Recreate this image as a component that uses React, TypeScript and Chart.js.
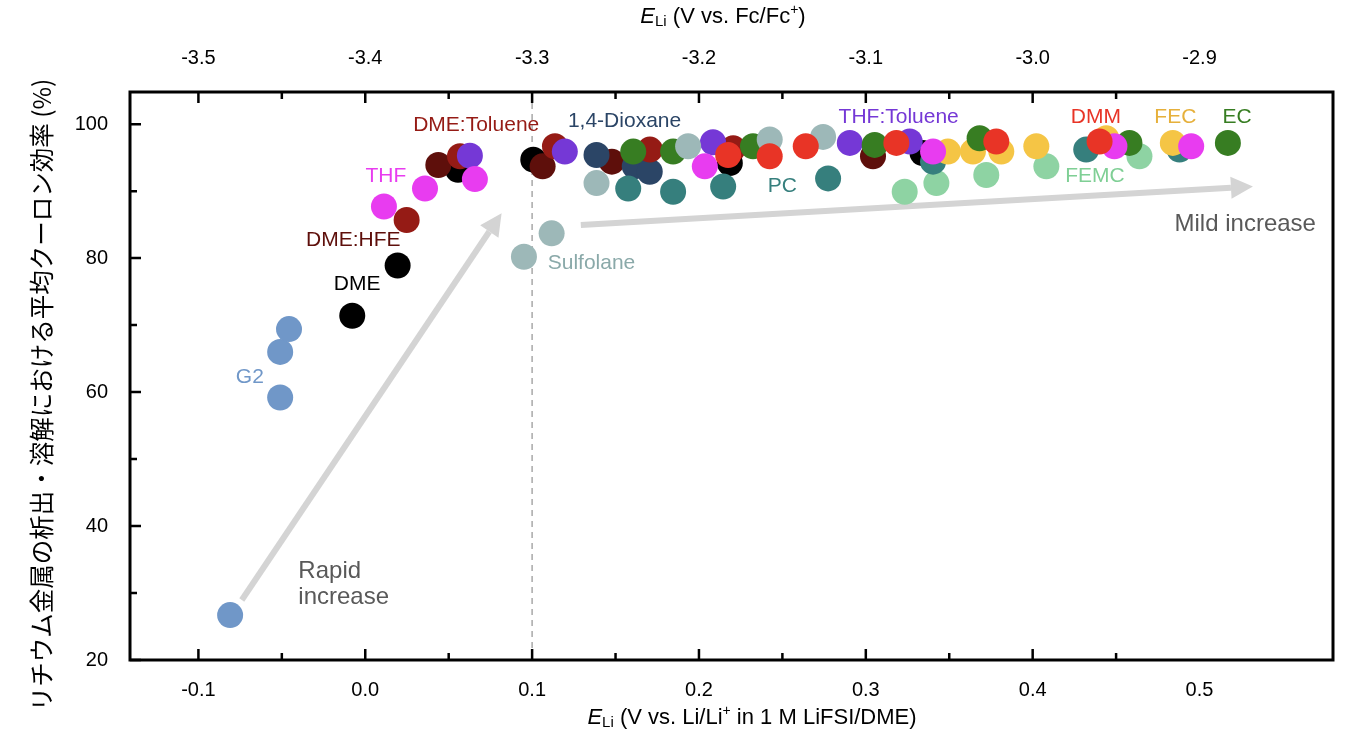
import React, { useEffect, useRef } from "react";
import { Chart, registerables } from "chart.js";
Chart.register(...registerables);

// ---- data (E_Li vs Li/Li+ in 1 M LiFSI/DME, average Coulombic efficiency %) ----
const G2_X = [-0.081, -0.051, -0.051, -0.0457];
const G2_Y = [26.7, 59.2, 66.0, 69.4];
const DME_X = [-0.0078, 0.0194, 0.0556, 0.1007, 0.2185, 0.334];
const DME_Y = [71.4, 78.9, 93.2, 94.7, 94.2, 95.7];
const DMEHFE_X = [0.0438, 0.1063, 0.1478, 0.3043];
const DMEHFE_Y = [93.9, 93.7, 94.4, 95.2];
const DMETOL_X = [0.0248, 0.0568, 0.1137, 0.1706, 0.2205];
const DMETOL_Y = [85.7, 95.2, 96.7, 96.2, 96.4];
const THF_X = [0.0112, 0.0358, 0.0657, 0.2035, 0.3403, 0.449, 0.495];
const THF_Y = [87.7, 90.4, 91.8, 93.7, 95.9, 96.7, 96.7];
const THFTOL_X = [0.0627, 0.1196, 0.2084, 0.2904, 0.3263];
const THFTOL_Y = [95.3, 95.9, 97.3, 97.2, 97.4];
const DIOX_X = [0.1386, 0.1615, 0.1705];
const DIOX_Y = [95.4, 93.7, 92.9];
const PC_X = [0.1576, 0.1845, 0.2145, 0.2774, 0.3403, 0.4321, 0.488];
const PC_Y = [90.4, 89.9, 90.7, 91.9, 94.4, 96.2, 96.2];
const SULF_X = [0.0951, 0.1117, 0.1386, 0.1935, 0.2424, 0.2744];
const SULF_Y = [80.2, 83.7, 91.2, 96.7, 97.7, 98.1];
const EC_X = [0.1606, 0.1845, 0.2324, 0.3053, 0.3682, 0.458, 0.517];
const EC_Y = [95.9, 95.9, 96.7, 96.9, 97.9, 97.2, 97.2];
const DMM_X = [0.2175, 0.2424, 0.264, 0.3183, 0.3782, 0.4401];
const DMM_Y = [95.4, 95.2, 96.7, 97.2, 97.4, 97.4];
const FEC_X = [0.3492, 0.3642, 0.3812, 0.4022, 0.4441, 0.484];
const FEC_Y = [95.9, 95.9, 95.9, 96.7, 97.9, 97.2];
const FEMC_X = [0.3233, 0.3423, 0.3722, 0.4082, 0.464];
const FEMC_Y = [89.9, 91.2, 92.4, 93.7, 95.2];

const X_TICK_LABELS = ["-0.1", "0.0", "0.1", "0.2", "0.3", "0.4", "0.5"];
const TOP_TICK_LABELS = ["-3.5", "-3.4", "-3.3", "-3.2", "-3.1", "-3.0", "-2.9"];
const Y_TICK_LABELS = ["20", "40", "60", "80", "100"];

// series labels drawn in the plot
const LABEL_TEXT = ["DME:Toluene", "1,4-Dioxane", "THF:Toluene", "DMM", "FEC", "EC", "THF", "DME:HFE", "DME", "G2", "PC", "Sulfolane", "FEMC"];
const LABEL_X = [0.0665, 0.1554, 0.3197, 0.4379, 0.4855, 0.5225, 0.0124, -0.0072, -0.0049, -0.0692, 0.2499, 0.1356, 0.4373];
const LABEL_Y = [99.9, 100.4, 101.0, 101.0, 101.0, 101.0, 92.2, 82.7, 76.05, 62.2, 90.7, 79.24, 92.2];

const FONT = "'Liberation Sans', Arial, Helvetica, sans-serif";

const COLORS: Record<string, string> = {
  G2: "#7097c8",
  DME: "#000000",
  "DME:HFE": "#5e0f0b",
  "DME:Toluene": "#951b15",
  THF: "#e83cf0",
  "THF:Toluene": "#7538d6",
  "1,4-Dioxane": "#2b4566",
  PC: "#367f7d",
  Sulfolane: "#9db8b8",
  EC: "#377d22",
  DMM: "#e83426",
  FEC: "#f5c545",
  FEMC: "#8ed3a3",
};
const LABEL_COLORS: Record<string, string> = {
  ...COLORS,
  FEC: "#e6b03b",
  FEMC: "#7fcf95",
  Sulfolane: "#8aa9a9",
};

const ARROWS = [
  { x0: -0.074, y0: 28.96, x1: 0.0817, y1: 86.7 },
  { x0: 0.1292, y0: 84.96, x1: 0.532, y1: 90.7 },
];

function pts(xs: number[], ys: number[]) {
  return xs.map((x, i) => ({ x, y: ys[i] }));
}

const fmtTick = (labels: string[], start: number) => (v: number) => {
  const idx = Math.round((v - start) / 0.1);
  return labels[idx] ?? "";
};

function drawRich(ctx: CanvasRenderingContext2D, parts: { t: string; f: string; dy?: number }[], cx: number, cy: number) {
  let total = 0;
  for (const p of parts) {
    ctx.font = p.f;
    total += ctx.measureText(p.t).width;
  }
  let x = cx - total / 2;
  ctx.textAlign = "left";
  ctx.textBaseline = "middle";
  for (const p of parts) {
    ctx.font = p.f;
    ctx.fillText(p.t, x, cy + (p.dy || 0));
    x += ctx.measureText(p.t).width;
  }
}

const decorPlugin = {
  id: "decor",
  beforeDatasetsDraw(chart: any) {
    const { ctx, chartArea: a } = chart;
    const xs = chart.scales.x;
    const ys = chart.scales.y;
    ctx.save();
    // dashed vertical line at 0.1
    const xd = xs.getPixelForValue(0.1);
    ctx.strokeStyle = "#a8a8a8";
    ctx.lineWidth = 1.5;
    ctx.setLineDash([6, 5]);
    ctx.beginPath();
    ctx.moveTo(xd, a.top);
    ctx.lineTo(xd, a.bottom);
    ctx.stroke();
    ctx.setLineDash([]);
    // arrows
    for (const ar of ARROWS) {
      const px0 = xs.getPixelForValue(ar.x0);
      const py0 = ys.getPixelForValue(ar.y0);
      const px1 = xs.getPixelForValue(ar.x1);
      const py1 = ys.getPixelForValue(ar.y1);
      const ang = Math.atan2(py1 - py0, px1 - px0);
      const hl = 22;
      const hw = 11;
      const bx = px1 - hl * Math.cos(ang);
      const by = py1 - hl * Math.sin(ang);
      ctx.strokeStyle = "#d4d4d4";
      ctx.fillStyle = "#d4d4d4";
      ctx.lineWidth = 6;
      ctx.beginPath();
      ctx.moveTo(px0, py0);
      ctx.lineTo(bx, by);
      ctx.stroke();
      ctx.beginPath();
      ctx.moveTo(px1, py1);
      ctx.lineTo(bx + hw * Math.sin(ang), by - hw * Math.cos(ang));
      ctx.lineTo(bx - hw * Math.sin(ang), by + hw * Math.cos(ang));
      ctx.closePath();
      ctx.fill();
    }
    ctx.restore();
  },
  afterDraw(chart: any) {
    const { ctx, chartArea: a } = chart;
    const xs = chart.scales.x;
    const ys = chart.scales.y;
    ctx.save();
    // labels
    ctx.font = `21px ${FONT}`;
    ctx.textAlign = "center";
    ctx.textBaseline = "middle";
    LABEL_TEXT.forEach((t, i) => {
      ctx.fillStyle = LABEL_COLORS[t];
      ctx.fillText(t, xs.getPixelForValue(LABEL_X[i]), ys.getPixelForValue(LABEL_Y[i]));
    });
    ctx.font = `24px ${FONT}`;
    ctx.fillStyle = "#595959";
    ctx.fillText("Mild increase", xs.getPixelForValue(0.5274), ys.getPixelForValue(85.1));
    ctx.textAlign = "left";
    ctx.fillText("Rapid", xs.getPixelForValue(-0.0401), ys.getPixelForValue(33.3));
    ctx.fillText("increase", xs.getPixelForValue(-0.0401), ys.getPixelForValue(29.4));

    // frame
    ctx.strokeStyle = "#000";
    ctx.lineWidth = 3;
    ctx.strokeRect(a.left, a.top, a.right - a.left, a.bottom - a.top);
    // ticks
    ctx.lineWidth = 2.5;
    ctx.beginPath();
    for (let k = -2; k <= 11; k++) {
      const v = k * 0.05 - 0.1;
      if (v < -0.141 || v > 0.58) continue;
      const px = xs.getPixelForValue(v);
      const len = k % 2 === 0 ? 11 : 7;
      ctx.moveTo(px, a.bottom);
      ctx.lineTo(px, a.bottom - len);
      ctx.moveTo(px, a.top);
      ctx.lineTo(px, a.top + len);
    }
    for (let v = 20; v <= 100; v += 10) {
      const py = ys.getPixelForValue(v);
      const len = v % 20 === 0 ? 11 : 7;
      ctx.moveTo(a.left, py);
      ctx.lineTo(a.left + len, py);
    }
    ctx.stroke();

    // axis titles
    ctx.fillStyle = "#000";
    drawRich(
      ctx,
      [
        { t: "E", f: `italic 22px ${FONT}` },
        { t: "Li", f: `15px ${FONT}`, dy: 5 },
        { t: " (V vs. Fc/Fc", f: `22px ${FONT}` },
        { t: "+", f: `14px ${FONT}`, dy: -7 },
        { t: ")", f: `22px ${FONT}` },
      ],
      723,
      17
    );
    drawRich(
      ctx,
      [
        { t: "E", f: `italic 22px ${FONT}` },
        { t: "Li", f: `15px ${FONT}`, dy: 5 },
        { t: " (V vs. Li/Li", f: `22px ${FONT}` },
        { t: "+", f: `14px ${FONT}`, dy: -7 },
        { t: " in 1 M LiFSI/DME)", f: `22px ${FONT}` },
      ],
      752,
      718
    );
    ctx.translate(42, 395);
    ctx.rotate(-Math.PI / 2);
    ctx.font = `24.5px 'Noto Sans CJK JP', ${FONT}`;
    ctx.textAlign = "center";
    ctx.textBaseline = "middle";
    ctx.fillText("リチウム金属の析出・溶解における平均クーロン効率 (%)", 0, 0);
    ctx.restore();
  },
};

export default function App() {
  const ref = useRef<HTMLCanvasElement | null>(null);
  useEffect(() => {
    document.body.style.margin = "0";
    const canvas = ref.current;
    if (!canvas) return;
    const series: [string, number[], number[]][] = [
      ["DMM", DMM_X, DMM_Y],
      ["THF", THF_X, THF_Y],
      ["Sulfolane", SULF_X, SULF_Y],
      ["EC", EC_X, EC_Y],
      ["THF:Toluene", THFTOL_X, THFTOL_Y],
      ["FEC", FEC_X, FEC_Y],
      ["PC", PC_X, PC_Y],
      ["FEMC", FEMC_X, FEMC_Y],
      ["DME:Toluene", DMETOL_X, DMETOL_Y],
      ["1,4-Dioxane", DIOX_X, DIOX_Y],
      ["DME:HFE", DMEHFE_X, DMEHFE_Y],
      ["DME", DME_X, DME_Y],
      ["G2", G2_X, G2_Y],
    ];
    const chart = new Chart(canvas, {
      type: "scatter",
      data: {
        datasets: series.map(([name, xs, ys]) => ({
          label: name,
          data: pts(xs, ys),
          backgroundColor: COLORS[name],
          borderWidth: 0,
          pointRadius: 13,
          pointHoverRadius: 13,
          xAxisID: "x",
          yAxisID: "y",
        })),
      },
      options: {
        responsive: false,
        animation: false,
        devicePixelRatio: 1,
        layout: { padding: { left: 0, right: 35, top: 0, bottom: 0 } },
        plugins: { legend: { display: false }, tooltip: { enabled: false } },
        events: [],
        scales: {
          x: {
            type: "linear",
            position: "bottom",
            min: -0.141,
            max: 0.58,
            grid: { display: false, drawTicks: false },
            border: { display: false },
            ticks: {
              stepSize: 0.1,
              includeBounds: false,
              padding: 18,
              color: "#000",
              font: { size: 20, family: FONT },
              maxRotation: 0,
              callback: fmtTick(X_TICK_LABELS, -0.1) as any,
            },
            afterFit: (s: any) => {
              s.height = 90;
            },
          },
          x2: {
            type: "linear",
            position: "top",
            min: -3.541,
            max: -2.82,
            grid: { display: false, drawTicks: false },
            border: { display: false },
            ticks: {
              stepSize: 0.1,
              includeBounds: false,
              padding: 22,
              color: "#000",
              font: { size: 20, family: FONT },
              maxRotation: 0,
              callback: fmtTick(TOP_TICK_LABELS, -3.5) as any,
            },
            afterFit: (s: any) => {
              s.height = 92;
            },
          },
          y: {
            type: "linear",
            min: 20,
            max: 104.8,
            grid: { display: false, drawTicks: false },
            border: { display: false },
            ticks: {
              stepSize: 20,
              includeBounds: false,
              padding: 22,
              color: "#000",
              font: { size: 20, family: FONT },
              callback: ((v: number) => {
                const i = Math.round((v - 20) / 20);
                return Y_TICK_LABELS[i] ?? "";
              }) as any,
            },
            afterFit: (s: any) => {
              s.width = 130;
            },
          },
        },
      },
      plugins: [decorPlugin as any],
    });
    return () => chart.destroy();
  }, []);
  return (
    <div style={{ width: 1368, height: 750 }}>
      <canvas ref={ref} width={1368} height={750} style={{ display: "block" }} />
    </div>
  );
}
